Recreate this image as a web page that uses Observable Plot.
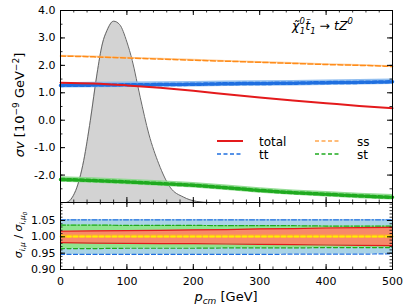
<!DOCTYPE html>
<html>
<head>
<meta charset="utf-8">
<script src="https://cdn.jsdelivr.net/npm/d3@7"></script>
<script src="https://cdn.jsdelivr.net/npm/@observablehq/plot@0.6"></script>
<style>
  html, body { margin: 0; padding: 0; background: #fff; }
  #wrap { position: relative; width: 407px; height: 306px; font-family: "DejaVu Sans", sans-serif; }
  #wrap > div, #wrap > svg { position: absolute; left: 0; }
  #top { top: 0; }
  #bot { top: 202px; }
  #overlay { top: 0; left: 0; pointer-events: none; }
  text { font-family: "DejaVu Sans", sans-serif; }
</style>
</head>
<body>
<div id="wrap">
  <div id="top"></div>
  <div id="bot"></div>
  <svg id="overlay" width="407" height="306"></svg>
</div>
<script>
// ---------- data ----------
const pcm   = [0, 50, 100, 150, 200, 250, 300, 350, 400, 450, 500];
const total = [1.37, 1.34, 1.27, 1.18, 1.07, 0.95, 0.83, 0.72, 0.62, 0.52, 0.44];
const tt    = [1.27, 1.28, 1.29, 1.30, 1.31, 1.33, 1.34, 1.35, 1.37, 1.38, 1.40];
const ss    = [2.34, 2.31, 2.27, 2.23, 2.19, 2.15, 2.11, 2.07, 2.03, 2.00, 1.96];
const st    = [-2.16, -2.20, -2.25, -2.31, -2.37, -2.46, -2.56, -2.64, -2.70, -2.76, -2.81];

// thermal distribution (gray area)
const distP = [0, 8, 23, 35, 45, 55, 63, 70, 80, 89, 100, 108, 120, 133, 148, 165, 185, 205, 225, 500];
const distV = [-3.0, -3.0, -2.56, -1.47, 0.0, 1.69, 2.78, 3.27, 3.61, 3.49, 2.85, 2.18, 0.84, -0.50, -1.59, -2.44, -2.80, -2.96, -3.0, -3.0];

// ratio bands (lower panel), upper / lower edges
const ttHi    = [1.052, 1.052, 1.052, 1.052, 1.052, 1.052, 1.052, 1.052, 1.052, 1.052, 1.052];
const ttLo    = [0.946, 0.946, 0.946, 0.946, 0.946, 0.946, 0.946, 0.947, 0.947, 0.947, 0.948];
const stHi    = [1.036, 1.036, 1.035, 1.035, 1.035, 1.034, 1.034, 1.034, 1.033, 1.033, 1.033];
const stLo    = [0.964, 0.964, 0.965, 0.965, 0.965, 0.966, 0.966, 0.966, 0.967, 0.967, 0.967];
const totHi   = [1.017, 1.018, 1.019, 1.020, 1.021, 1.022, 1.024, 1.025, 1.027, 1.028, 1.029];
const totLo   = [0.982, 0.981, 0.980, 0.979, 0.979, 0.978, 0.977, 0.976, 0.975, 0.974, 0.973];
const ssHi    = [1.006, 1.006, 1.006, 1.006, 1.006, 1.006, 1.006, 1.006, 1.006, 1.006, 1.006];
const ssLo    = [0.995, 0.995, 0.995, 0.995, 0.995, 0.995, 0.995, 0.995, 0.995, 0.995, 0.995];
const ssMid   = [1.001, 1.001, 1.001, 1.001, 1.001, 1.001, 1.001, 1.001, 1.001, 1.001, 1.001];

// ticks
const xMajor = [0, 100, 200, 300, 400, 500];
const xMinor = d3.range(0, 501, 20);
const yTopMajor = [-3, -2, -1, 0, 1, 2, 3, 4];
const yTopLabels = [-2, -1, 0, 1, 2, 3, 4];
const yTopMinor = d3.range(-3, 4.01, 0.5);
const yBotMajor = [0.90, 0.95, 1.00, 1.05];
const yBotMinor = d3.range(0.90, 1.105, 0.01);

// ---------- layout ----------
const W = 407, ML = 60, MR = 15;
const plotW = W - ML - MR;
const TOPH = 202, TOPMT = 10;
const BOTH = 104, BOTMB = 37;

const rows = pcm.map((p, i) => ({p, total: total[i], tt: tt[i], ss: ss[i], st: st[i],
  ttHi: ttHi[i], ttLo: ttLo[i], stHi: stHi[i], stLo: stLo[i], totHi: totHi[i], totLo: totLo[i],
  ssHi: ssHi[i], ssLo: ssLo[i], ssMid: ssMid[i]}));
const dist = distP.map((p, i) => ({p, v: distV[i]}));

const C = {
  red: "#e41a1c", blue: "#1f6fe0", blueBand: "#86b8ee", orange: "#ff8c1a", orangeBand: "#ffc080",
  green: "#1faa1f", greenBand: "#88d888",
  rTT: "#a9d3e6", rST: "#8fe58f", rTot: "#f7896a", rSS: "#ffa040", yellow: "#ffee00"
};

function tickMarks(plotH, xMaj, xMin, yMaj, yMin) {
  const m = [];
  m.push(Plot.tickX(xMaj, {x: d => d, insetTop: plotH - 5, stroke: "#000", strokeWidth: 1}));
  m.push(Plot.tickX(xMin, {x: d => d, insetTop: plotH - 2.5, stroke: "#000", strokeWidth: 0.8}));
  m.push(Plot.tickX(xMaj, {x: d => d, insetBottom: plotH - 5, stroke: "#000", strokeWidth: 1}));
  m.push(Plot.tickX(xMin, {x: d => d, insetBottom: plotH - 2.5, stroke: "#000", strokeWidth: 0.8}));
  m.push(Plot.tickY(yMaj, {y: d => d, insetRight: plotW - 5, stroke: "#000", strokeWidth: 1}));
  m.push(Plot.tickY(yMin, {y: d => d, insetRight: plotW - 2.5, stroke: "#000", strokeWidth: 0.8}));
  m.push(Plot.tickY(yMaj, {y: d => d, insetLeft: plotW - 5, stroke: "#000", strokeWidth: 1}));
  m.push(Plot.tickY(yMin, {y: d => d, insetLeft: plotW - 2.5, stroke: "#000", strokeWidth: 0.8}));
  return m;
}

// ---------- top panel ----------
const topPlot = Plot.plot({
  width: W, height: TOPH,
  marginLeft: ML, marginRight: MR, marginTop: TOPMT, marginBottom: 0,
  style: {fontFamily: "DejaVu Sans, sans-serif", fontSize: "11px", color: "#000", background: "transparent", overflow: "visible"},
  x: {domain: [0, 500], axis: null},
  y: {domain: [-3, 4]},
  marks: [
    Plot.areaY(dist, {x: "p", y1: -3, y2: "v", fill: "#d3d3d3", curve: "monotone-x"}),
    Plot.lineY(dist, {x: "p", y: "v", stroke: "#666", strokeWidth: 1, curve: "monotone-x"}),
    Plot.areaY(rows, {x: "p", y1: d => d.tt - 0.1, y2: d => d.tt + 0.1, fill: C.blueBand, fillOpacity: 0.9}),
    Plot.areaY(rows, {x: "p", y1: d => d.st - 0.1, y2: d => d.st + 0.1, fill: C.greenBand, fillOpacity: 0.9}),
    Plot.areaY(rows, {x: "p", y1: d => d.ss - 0.03, y2: d => d.ss + 0.03, fill: C.orangeBand, fillOpacity: 0.8}),
    Plot.lineY(rows, {x: "p", y: "tt", stroke: C.blue, strokeWidth: 3.5, strokeDasharray: "4,2.5", curve: "monotone-x"}),
    Plot.lineY(rows, {x: "p", y: "st", stroke: C.green, strokeWidth: 3.5, strokeDasharray: "4,2.5", curve: "monotone-x"}),
    Plot.lineY(rows, {x: "p", y: "ss", stroke: C.orange, strokeWidth: 1.5, strokeDasharray: "5,2.5", curve: "monotone-x"}),
    Plot.lineY(rows, {x: "p", y: "total", stroke: C.red, strokeWidth: 2, curve: "monotone-x"}),
    ...tickMarks(TOPH - TOPMT, xMajor, xMinor, yTopMajor, yTopMinor),
    Plot.axisY(yTopLabels, {tickSize: 0, tickPadding: 5, tickFormat: d => d.toFixed(1), label: null, fontSize: 11}),
    Plot.frame({stroke: "#000", strokeWidth: 1})
  ]
});
document.getElementById("top").append(topPlot);

// ---------- bottom panel ----------
const botPlot = Plot.plot({
  width: W, height: BOTH,
  marginLeft: ML, marginRight: MR, marginTop: 0, marginBottom: BOTMB,
  style: {fontFamily: "DejaVu Sans, sans-serif", fontSize: "11px", color: "#000", background: "transparent", overflow: "visible"},
  x: {domain: [0, 500]},
  y: {domain: [0.90, 1.105]},
  marks: [
    Plot.areaY(rows, {x: "p", y1: "ttLo", y2: "ttHi", fill: C.rTT}),
    Plot.areaY(rows, {x: "p", y1: "stLo", y2: "stHi", fill: C.rST}),
    Plot.areaY(rows, {x: "p", y1: "totLo", y2: "totHi", fill: C.rTot}),
    Plot.areaY(rows, {x: "p", y1: "ssLo", y2: "ssHi", fill: C.rSS}),
    Plot.lineY(rows, {x: "p", y: "ttHi", stroke: C.blue, strokeWidth: 1.2, strokeDasharray: "5,2,1.5,2"}),
    Plot.lineY(rows, {x: "p", y: "ttLo", stroke: C.blue, strokeWidth: 1.2, strokeDasharray: "4,2.5"}),
    Plot.lineY(rows, {x: "p", y: "stHi", stroke: C.green, strokeWidth: 1.2, strokeDasharray: "5,2,1.5,2"}),
    Plot.lineY(rows, {x: "p", y: "stLo", stroke: C.green, strokeWidth: 1.2, strokeDasharray: "4,2.5"}),
    Plot.lineY(rows, {x: "p", y: "totHi", stroke: C.red, strokeWidth: 1.2}),
    Plot.lineY(rows, {x: "p", y: "totLo", stroke: C.red, strokeWidth: 1.2}),
    Plot.lineY(rows, {x: "p", y: "ssMid", stroke: C.yellow, strokeWidth: 1.8, strokeDasharray: "4,2.5"}),
    ...tickMarks(BOTH - BOTMB, xMajor, xMinor, yBotMajor, yBotMinor),
    Plot.axisY(yBotMajor, {tickSize: 0, tickPadding: 5, tickFormat: d => d.toFixed(2), label: null, fontSize: 11}),
    Plot.axisX(xMajor, {tickSize: 0, tickPadding: 8, tickFormat: d => String(d), label: null, fontSize: 11}),
    Plot.frame({stroke: "#000", strokeWidth: 1})
  ]
});
document.getElementById("bot").append(botPlot);

// ---------- overlay texts: axis titles, annotation, legend ----------
const ov = d3.select("#overlay");
const yl = ov.append("text").attr("transform", "translate(24,105) rotate(-90)")
  .attr("text-anchor", "middle").attr("font-size", 13);
yl.append("tspan").attr("font-style", "italic").text("σv");
yl.append("tspan").text(" [10");
yl.append("tspan").attr("font-size", 9).attr("dy", -5).text("−9");
yl.append("tspan").attr("dy", 5).text(" GeV");
yl.append("tspan").attr("font-size", 9).attr("dy", -5).text("−2");
yl.append("tspan").attr("dy", 5).text("]");

const yb = ov.append("text").attr("transform", "translate(22,235) rotate(-90)")
  .attr("text-anchor", "middle").attr("font-size", 11);
yb.append("tspan").attr("font-style", "italic").text("σ");
yb.append("tspan").attr("font-style", "italic").attr("font-size", 7.5).attr("dy", 3).text("i,μ");
yb.append("tspan").attr("dy", -3).text(" / ");
yb.append("tspan").attr("font-style", "italic").text("σ");
yb.append("tspan").attr("font-style", "italic").attr("font-size", 7.5).attr("dy", 3).text("i,μ");
yb.append("tspan").attr("font-style", "italic").attr("font-size", 5.5).attr("dy", 1.5).text("0");

const xl = ov.append("text").attr("x", 226).attr("y", 301).attr("text-anchor", "middle").attr("font-size", 13);
xl.append("tspan").attr("font-style", "italic").text("p");
xl.append("tspan").attr("font-style", "italic").attr("font-size", 9).attr("dy", 3).text("cm");
xl.append("tspan").attr("dy", -3).text(" [GeV]");

const an = ov.append("text").attr("x", 292).attr("y", 30).attr("font-size", 12.5).attr("font-style", "italic");
an.append("tspan").text("χ̃");
an.append("tspan").attr("font-size", 8.5).attr("dy", -6).text("0");
an.append("tspan").attr("font-size", 8.5).attr("dx", -5).attr("dy", 10).text("1");
an.append("tspan").attr("dy", -4).text("t̃");
an.append("tspan").attr("font-size", 8.5).attr("dy", 4).text("1");
an.append("tspan").attr("dy", -4).attr("font-style", "normal").text(" → ");
an.append("tspan").text("tZ");
an.append("tspan").attr("font-size", 8.5).attr("dy", -6).text("0");

const legend = [
  {label: "total", color: C.red, dash: null, w: 2, x: 217, y: 141},
  {label: "tt", color: C.blue, dash: "4,2.5", w: 1.5, x: 217, y: 154},
  {label: "ss", color: "#ffa64d", dash: "4,2.5", w: 1.5, x: 315, y: 141},
  {label: "st", color: C.green, dash: "4,2.5", w: 1.5, x: 315, y: 154}
];
for (const l of legend) {
  ov.append("line").attr("x1", l.x).attr("x2", l.x + 26).attr("y1", l.y).attr("y2", l.y)
    .attr("stroke", l.color).attr("stroke-width", l.w).attr("stroke-dasharray", l.dash);
  ov.append("text").attr("x", l.x + 42).attr("y", l.y + 4.5).attr("font-size", 12).text(l.label);
}
</script>
</body>
</html>
